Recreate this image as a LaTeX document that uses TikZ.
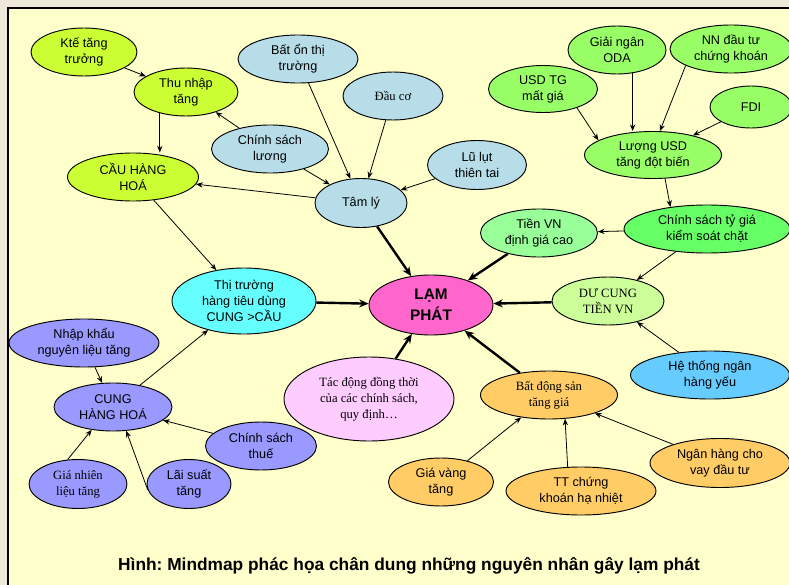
\documentclass[tikz,border=0pt]{standalone}
\usepackage{fontspec}
\setmainfont{Liberation Sans}
\newfontfamily\tnr{Liberation Serif}
\usetikzlibrary{shapes.geometric,arrows.meta}
\frenchspacing

\definecolor{outerbg}{RGB}{238,232,218}
\definecolor{paper}{RGB}{255,255,204}
\definecolor{chartr}{RGB}{204,255,51}
\definecolor{greyblue}{RGB}{183,221,232}
\definecolor{lgreen}{RGB}{153,255,102}
\definecolor{brgreen}{RGB}{102,255,102}
\definecolor{mint}{RGB}{153,255,153}
\definecolor{paleg}{RGB}{204,255,153}
\definecolor{magen}{RGB}{255,102,204}
\definecolor{cyanb}{RGB}{102,255,255}
\definecolor{lilac}{RGB}{153,153,255}
\definecolor{pinkb}{RGB}{255,204,255}
\definecolor{orng}{RGB}{255,204,102}
\definecolor{skyb}{RGB}{102,204,255}

\newcommand{\txtsize}{\fontsize{9.5}{12}\selectfont}

\tikzset{
  bub/.style={ellipse, draw, line width=0.7pt, inner sep=0pt, align=center, font=\txtsize},
  bw/.style={minimum width=#1*0.75pt},
  bh/.style={minimum height=#1*0.75pt},
  thin arr/.style={-{Stealth[length=5pt,width=4pt]}, line width=0.6pt},
  thick arr/.style={-{Stealth[length=7pt,width=6pt]}, line width=1.8pt}
}

\begin{document}
\begin{tikzpicture}[x=0.75pt,y=0.75pt,yscale=-1]
\useasboundingbox (0,0) rectangle (789,585);

%Background
\fill [outerbg] (0,0) rectangle (789,585);
\fill [paper] (8,8) rectangle (789,585);
\draw [line width=1pt] (8,585) -- (8,8) -- (789,8);

%Shape: Ellipse - thu nhap branch
\node (kte) [bub, fill=chartr, bw=106, bh=48] at (84,52) {Ktế tăng\\trưởng};
\node (thunhap) [bub, fill=chartr, bw=104, bh=48] at (186,92) {Thu nhập\\tăng};
\node (cauhh) [bub, fill=chartr, bw=131, bh=48] at (133,177) {CẦU HÀNG\\HOÁ};

%Shape: Ellipse - tam ly branch
\node (baton) [bub, fill=greyblue, bw=120, bh=48] at (298,59) {Bất ổn thị\\trường};
\node (dauco) [bub, fill=greyblue, bw=100, bh=48, font=\tnr\txtsize] at (393,96) {Đầu cơ};
\node (csluong) [bub, fill=greyblue, bw=117, bh=48] at (270,149) {Chính sách\\lương};
\node (tamly) [bub, fill=greyblue, bw=92, bh=49] at (361,203) {Tâm lý};
\node (lulut) [bub, fill=greyblue, bw=99, bh=49] at (477,165) {Lũ lụt\\thiên tai};

%Shape: Ellipse - USD branch
\node (usdtg) [bub, fill=lgreen, bw=109, bh=47] at (543,89) {USD TG\\mất giá};
\node (oda) [bub, fill=lgreen, bw=98, bh=48] at (617,50) {Giải ngân\\ODA};
\node (nndt) [bub, fill=lgreen, bw=122, bh=48] at (731,49) {NN đầu tư\\chứng khoán};
\node (fdi) [bub, fill=lgreen, bw=82, bh=42] at (751,107) {FDI};
\node (luongusd) [bub, fill=lgreen, bw=137, bh=47] at (653,155) {Lượng USD\\tăng đột biến};
\node (cstygia) [bub, fill=brgreen, bw=166, bh=48] at (707,229) {Chính sách tỷ giá\\kiểm soát chặt};
\node (tienvn) [bub, fill=mint, bw=117, bh=48] at (539,233) {Tiền VN\\định giá cao};

%Shape: Ellipse - centre
\node (lamphat) [bub, fill=magen, bw=124, bh=60, font=\bfseries\fontsize{11.5}{16}\selectfont] at (431,305) {LẠM\\PHÁT};
\node (ducung) [bub, fill=paleg, bw=112, bh=48, font=\tnr\txtsize] at (608,301) {DƯ CUNG\\TIỀN VN};
\node (thitruong) [bub, fill=cyanb, bw=144, bh=66] at (244,301) {Thị trường\\hàng tiêu dùng\\CUNG >CẦU};

%Shape: Ellipse - cung hang hoa branch
\node (nhapkhau) [bub, fill=lilac, bw=150, bh=48] at (84,343) {Nhập khẩu\\nguyên liệu tăng};
\node (cunghh) [bub, fill=lilac, bw=118, bh=48] at (113,407) {CUNG\\HÀNG HOÁ};
\node (csthue) [bub, fill=lilac, bw=111, bh=48] at (261,446) {Chính sách\\thuế};
\node (gianl) [bub, fill=lilac, bw=98, bh=49, font=\tnr\txtsize] at (78,484) {Giá nhiên\\liệu tăng};
\node (laisuat) [bub, fill=lilac, bw=84, bh=49] at (189,484) {Lãi suất\\tăng};

%Shape: Ellipse - bat dong san branch
\node (tacdong) [bub, fill=pinkb, bw=170, bh=84, font=\tnr\txtsize] at (369,399) {Tác động đồng thời\\của các chính sách,\\quy định…};
\node (bds) [bub, fill=orng, bw=137, bh=48, font=\tnr\txtsize] at (549,395) {Bất động sản\\tăng giá};
\node (hethong) [bub, fill=skyb, bw=159, bh=48] at (710,375) {Hệ thống ngân\\hàng yếu};
\node (giavang) [bub, fill=orng, bw=105, bh=48] at (441,482) {Giá vàng\\tăng};
\node (ttck) [bub, fill=orng, bw=150, bh=48] at (581,491) {TT chứng\\khoán hạ nhiệt};
\node (nganhang) [bub, fill=orng, bw=140, bh=49] at (720,463) {Ngân hàng cho\\vay đầu tư};

%Connectors
\draw [thin arr] (kte) -- (thunhap);
\draw [thin arr] (thunhap.219) -- (thunhap.219 |- cauhh.north);
\draw [thin arr] (csluong) -- (thunhap);
\draw [thin arr] (csluong) -- (tamly);
\draw [thin arr] (baton) -- (tamly);
\draw [thin arr] (dauco) -- (tamly);
\draw [thin arr] (lulut) -- (tamly);
\draw [thin arr] (tamly) -- (cauhh);
\draw [thin arr] (cauhh) -- (thitruong);
\draw [thin arr] (nhapkhau) -- (cunghh);
\draw [thin arr] (gianl.113) -- (cunghh.227);
\draw [thin arr] (laisuat.188) -- (cunghh.299);
\draw [thin arr] (csthue) -- (cunghh);
\draw [thin arr] (cunghh) -- (thitruong);
\draw [thin arr] (usdtg.331) -- (luongusd.165);
\draw [thin arr] (oda.304) -- (oda.304 |- luongusd.north);
\draw [thin arr] (nndt.200) -- (luongusd.74);
\draw [thin arr] (fdi) -- (luongusd);
\draw [thin arr] (luongusd.297) -- (cstygia.149);
\draw [thin arr] (cstygia) -- (tienvn);
\draw [thin arr] (cstygia) -- (ducung);
\draw [thin arr] (hethong) -- (ducung);
\draw [thin arr] (giavang) -- (bds);
\draw [thin arr] (ttck.119) -- (bds.304);
\draw [thin arr] (nganhang) -- (bds);

\draw [thick arr] (tamly) -- (lamphat);
\draw [thick arr] (thitruong) -- (lamphat);
\draw [thick arr] (tienvn) -- (lamphat);
\draw [thick arr] (ducung) -- (lamphat);
\draw [thick arr] (tacdong) -- (lamphat);
\draw [thick arr] (bds) -- (lamphat);

% Text Node
\node (caption) at (409,566) {\bfseries\fontsize{13}{15}\selectfont Hình: Mindmap phác họa chân dung những nguyên nhân gây lạm phát};
\end{tikzpicture}
\end{document}
